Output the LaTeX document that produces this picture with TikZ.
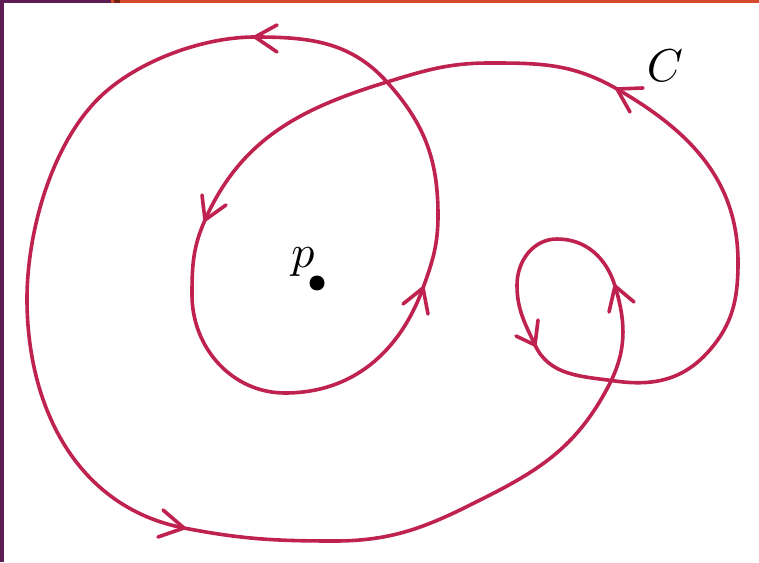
\documentclass[tikz,border=0pt]{standalone}
\definecolor{curvecol}{RGB}{192,34,80}
\definecolor{barpurple}{RGB}{94,28,84}
\definecolor{barorange}{RGB}{213,72,42}
\definecolor{bardark}{RGB}{110,32,20}
\begin{document}
\begin{tikzpicture}[x=1pt,y=1pt,
  curve/.style={draw=curvecol,line width=3.6pt,line join=round,line cap=round},
  barb/.style={draw=curvecol,line width=3.6pt,line cap=round,line join=round},
  lbl/.style={scale=4.6,inner sep=0pt}]
\useasboundingbox (0,0) rectangle (759,562);
\fill[white] (0,0) rectangle (759,562);
% frame strips
\fill[barpurple] (0,0) rectangle (4,562);
\fill[barpurple] (0,559) rectangle (111,562);
\fill[barorange] (111,559) rectangle (759,562);
\fill[bardark] (114,559) rectangle (120,562);
% key points of the curve
\coordinate (A) at (255,525);
\coordinate (X) at (100,465);
\coordinate (B) at (27,263);
\coordinate (Cc) at (184,34);
\coordinate (D) at (335,21);
\coordinate (W) at (490,67);
\coordinate (E) at (608,175);
\coordinate (F) at (615,276);
\coordinate (G) at (557,323);
\coordinate (H) at (517,277);
\coordinate (I) at (535,217);
\coordinate (J) at (615,181);
\coordinate (Y) at (708,210);
\coordinate (K) at (738,300);
\coordinate (L) at (617,473);
\coordinate (M) at (490,499);
\coordinate (N) at (387,480);
\coordinate (O) at (205,342);
\coordinate (P) at (192,267);
\coordinate (Q) at (285,169);
\coordinate (R) at (423,274);
\coordinate (S) at (438,347);
% the curve C
\draw[curve] (A) to[out=180,in=44,looseness=0.8] (X)
  to[out=224,in=90,looseness=0.8] (B)
  to[out=270,in=169] (Cc)
  to[out=-11,in=180] (D) to[out=0,in=207] (W) to[out=27,in=242] (E)
  to[out=62,in=287] (F) to[out=107,in=0] (G) to[out=180,in=90] (H)
  to[out=270,in=115] (I) to[out=-65,in=172] (J) to[out=-8,in=228] (Y)
  to[out=48,in=270] (K)
  to[out=90,in=330] (L) to[out=150,in=0] (M) to[out=180,in=17] (N)
  to[out=197,in=66] (O) to[out=246,in=90] (P) to[out=270,in=180] (Q)
  to[out=0,in=250] (R) to[out=70,in=270] (S) to[out=90,in=312] (N)
  to[out=132,in=0] (A);
% arrowheads
\draw[barb] (277,537) -- (A) -- (277,510);
\draw[barb] (163,52) -- (Cc) -- (158,25);
\draw[barb] (609,250) -- (F) -- (634,260);
\draw[barb] (538,242) -- (I) -- (516,226);
\draw[barb] (643,474) -- (L) -- (630,450);
\draw[barb] (202,367) -- (O) -- (226,357);
\draw[barb] (403,258) -- (R) -- (428,248);
% point p
\fill (317,279) circle[radius=7.5];
\node[lbl,anchor=base] (p) at (303,294) {$p$};
\node[lbl,anchor=base] (Clabel) at (665,480) {$C$};
\end{tikzpicture}
\end{document}
